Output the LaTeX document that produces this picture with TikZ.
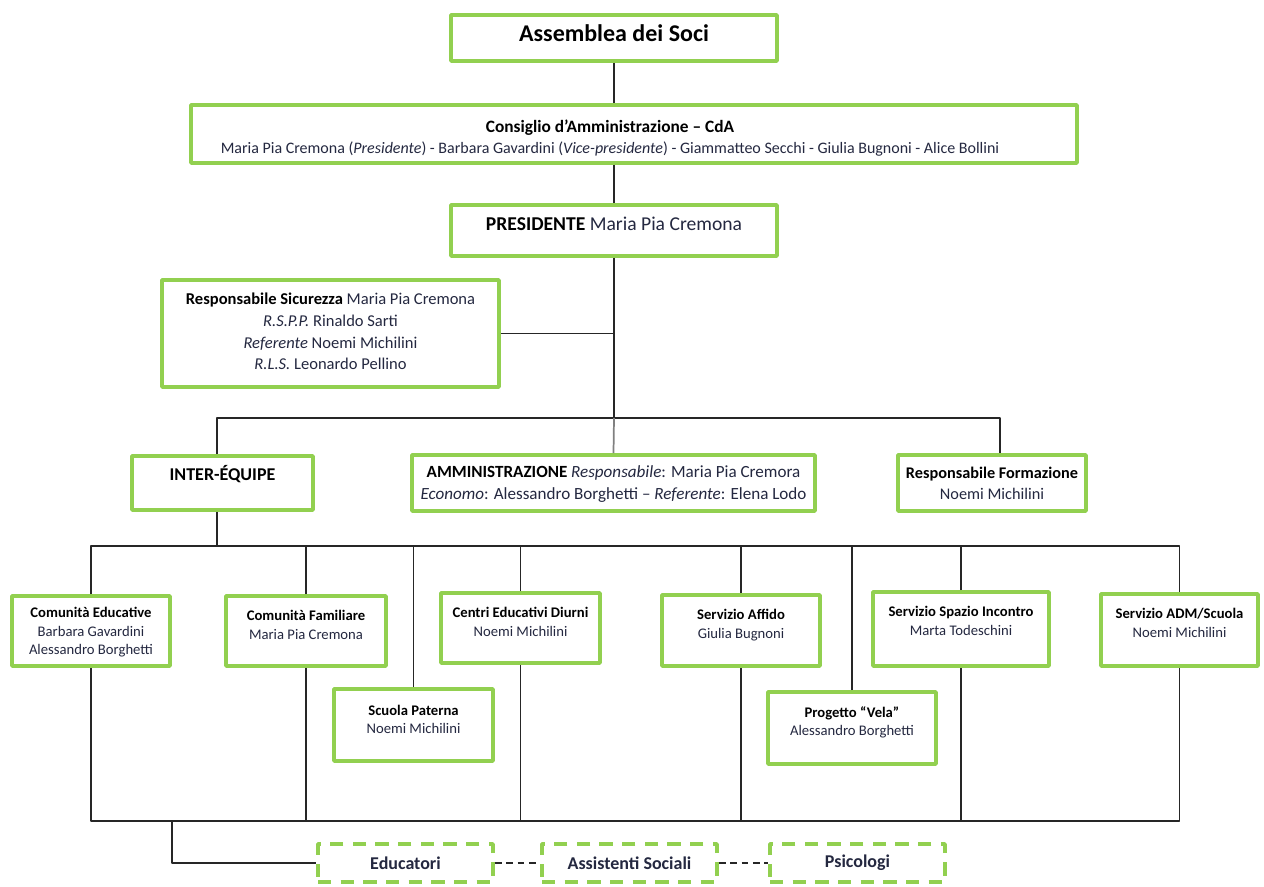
\documentclass[tikz,border=0pt]{standalone}
\usepackage{fontspec}
\setmainfont{Carlito}
\usetikzlibrary{positioning}
\definecolor{boxgreen}{RGB}{146,208,80}
\definecolor{namecol}{RGB}{36,40,64}
\newcommand{\boxtitle}[1]{{\color{black}\bfseries #1}}
% box from outer pixel corners: [style]{name}{x1}{y1}{x2}{y2}
\newcommand{\orgbox}[6][box]{%
  \node[#1, minimum width={(#5-#3-4)*0.75pt}, minimum height={(#6-#4-4)*0.75pt}] (#2) at ({(#3+#5)/2},{(#4+#6)/2}) {};}
\tikzset{
  box/.style={draw=boxgreen, line width=2.8pt, fill=white, inner sep=0pt},
  dbox/.style={box, dash pattern=on 10pt off 7pt},
  txt/.style={inner sep=0pt, align=center, text=namecol},
  conn/.style={draw=black!85, line width=0.9pt},
  dconn/.style={conn, dash pattern=on 5pt off 3.5pt},
  small/.style={font=\fontsize{11}{14}\selectfont},
}
\begin{document}
\begin{tikzpicture}[x=0.75pt, y=-0.75pt, line join=round]
	\useasboundingbox (0,0) rectangle (1264,886);
	% top of the chart
	\orgbox{ass}{449}{13}{779}{63}
	\orgbox{cda}{189}{103}{1079}{165}
	\orgbox{pres}{449}{203}{779}{258}
	\orgbox{sic}{160}{278}{501}{389}
	\node[txt, below=8.5pt of ass.north, font=\fontsize{18}{21}\selectfont\bfseries, text=black] (ass-t) {Assemblea dei Soci};
	\node[txt, below=12pt of cda.north, xshift=-18pt, font=\fontsize{12}{15.75}\selectfont] (cda-t) {{\fontsize{13}{15.75}\selectfont\boxtitle{Consiglio d’Amministrazione – CdA}}\\
		Maria Pia Cremona (\textit{Presidente}) - Barbara Gavardini (\textit{Vice-presidente}) - Giammatteo Secchi - Giulia Bugnoni - Alice Bollini};
	\node[txt, below=10pt of pres.north, font=\fontsize{14.7}{17}\selectfont] (pres-t) {\boxtitle{PRESIDENTE} Maria Pia Cremona};
	\node[txt, below=11pt of sic.north, font=\fontsize{12.4}{16.3}\selectfont] (sic-t) {\boxtitle{Responsabile Sicurezza} Maria Pia Cremona\\
		\textit{R.S.P.P.} Rinaldo Sarti\\ \textit{Referente} Noemi Michilini\\ \textit{R.L.S.} Leonardo Pellino};
	% second level
	\orgbox{inter}{130}{454}{315}{512}
	\orgbox{amm}{410}{453}{817}{513}
	\orgbox{form}{896}{453}{1088}{513}
	\node[txt, below=8.5pt of inter.north, font=\fontsize{13.5}{16}\selectfont] (inter-t) {\boxtitle{INTER-ÉQUIPE}};
	\node[txt, below=9pt of amm.north, font=\fontsize{12.8}{16.5}\selectfont] (amm-t) {\boxtitle{AMMINISTRAZIONE} \textit{Responsabile}: Maria Pia Cremora\\
		\textit{Economo}: Alessandro Borghetti – \textit{Referente}: Elena Lodo};
	\node[txt, below=10pt of form.north, font=\fontsize{12.2}{15.75}\selectfont] (form-t) {\boxtitle{Responsabile Formazione}\\ Noemi Michilini};
	% services
	\orgbox{ce}{10}{594}{172}{668}
	\orgbox{cf}{224}{594}{388}{668}
	\orgbox{sp}{332}{687}{495}{763}
	\orgbox{ced}{439}{591}{602}{665}
	\orgbox{sa}{660}{593}{822}{668}
	\orgbox{pv}{766}{690}{938}{766}
	\orgbox{ssi}{871}{590}{1051}{668}
	\orgbox{adm}{1099}{592}{1260}{668}
	\node[txt, small, below=9.5pt of ce.north] (ce-t) {\boxtitle{Comunità Educative}\\ Barbara Gavardini\\ Alessandro Borghetti};
	\node[txt, small, below=12pt of cf.north] (cf-t) {\boxtitle{Comunità Familiare}\\ Maria Pia Cremona};
	\node[txt, small, below=13pt of sp.north] (sp-t) {\boxtitle{Scuola Paterna}\\ Noemi Michilini};
	\node[txt, small, below=12pt of ced.north] (ced-t) {\boxtitle{Centri Educativi Diurni}\\ Noemi Michilini};
	\node[txt, small, below=12pt of sa.north] (sa-t) {\boxtitle{Servizio Affido}\\ Giulia Bugnoni};
	\node[txt, small, below=12pt of pv.north] (pv-t) {\boxtitle{Progetto “Vela”}\\ Alessandro Borghetti};
	\node[txt, small, below=12pt of ssi.north] (ssi-t) {\boxtitle{Servizio Spazio Incontro}\\ Marta Todeschini};
	\node[txt, small, below=12pt of adm.north] (adm-t) {\boxtitle{Servizio ADM/Scuola}\\ Noemi Michilini};
	% professional figures
	\orgbox[dbox]{edu}{316}{842}{495}{884}
	\orgbox[dbox]{asoc}{540}{842}{719}{884}
	\orgbox[dbox]{psi}{768}{842}{947}{884}
	\node[txt, font=\fontsize{13.5}{16}\selectfont\bfseries] (edu-t) at (edu) {Educatori};
	\node[txt, font=\fontsize{13.5}{16}\selectfont\bfseries] (asoc-t) at (asoc) {Assistenti Sociali};
	\node[txt, font=\fontsize{13.5}{16}\selectfont\bfseries] (psi-t) at (psi) {Psicologi};
	% connectors
	\coordinate (bus1) at (614,418);
	\coordinate (formdrop) at (1000,418);
	\coordinate (bus2) at (217,546);
	\coordinate (bus3) at (172,821);
	\draw[conn] (ass.south) -- (ass.south |- cda.north);
	\draw[conn] (ass.south |- cda.south) -- (pres.north);
	\draw[conn] (pres.south) -- (bus1);
	\draw[conn] (sic.east) -- (sic.east -| bus1);
	\draw[conn] (bus2 |- inter.north) |- (formdrop) -- (formdrop |- form.north);
	\draw[conn, draw=gray, line width=1.3pt] (bus1) -- (amm.north);
	\draw[conn] (bus2 |- inter.south) -- (bus2);
	\draw[conn] (ce.north) |- (adm.north |- bus2) -- (adm.north);
	\foreach \s in {cf, sp, ced, sa, pv, ssi}
		\draw[conn] (\s.north) -- (\s.north |- bus2);
	\draw[conn] (ce.south) |- (adm.south |- bus3) -- (adm.south);
	\foreach \s in {cf, ced, sa, ssi}
		\draw[conn] (\s.south) -- (\s.south |- bus3);
	\draw[conn] (bus3) |- (edu.west);
	\draw[dconn] (edu) -- (asoc);
	\draw[dconn] (asoc) -- (psi);
\end{tikzpicture}
\end{document}
